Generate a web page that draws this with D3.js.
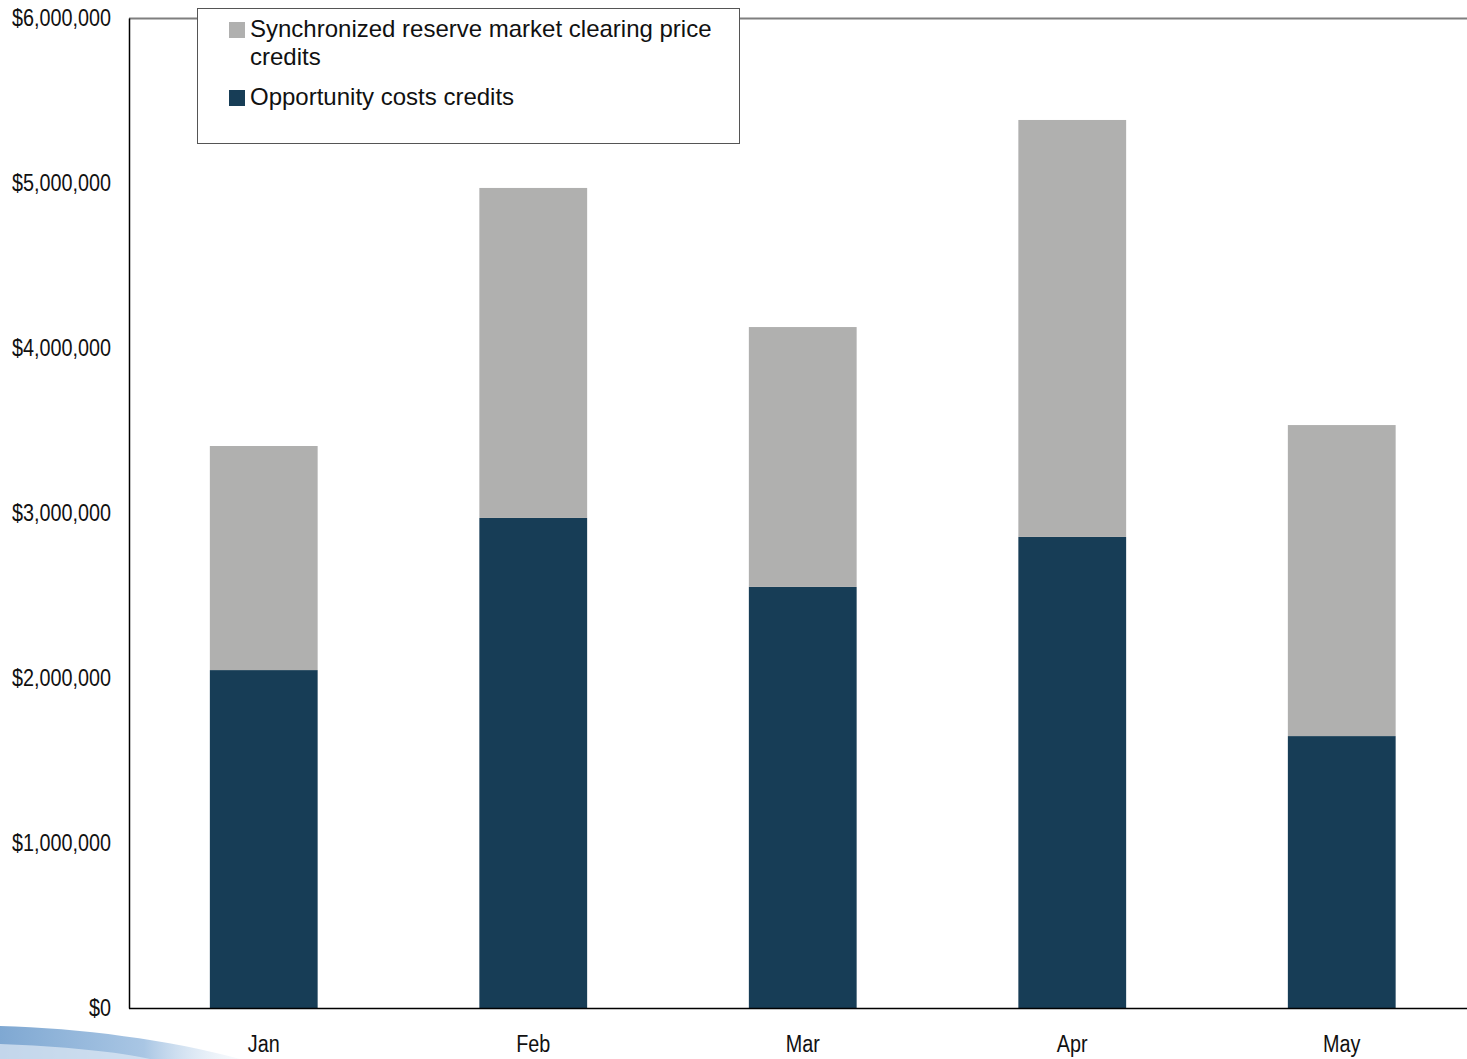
<!DOCTYPE html>
<html><head><meta charset="utf-8">
<script src="https://cdn.jsdelivr.net/npm/d3@7"></script>
<style>
html,body{margin:0;padding:0;background:#fff;overflow:hidden;}
svg{display:block;}
</style></head>
<body>
<svg id="chart" width="1467" height="1059"></svg>
<script>
const months = ["Jan","Feb","Mar","Apr","May"];
const opportunityCosts = [2048000, 2970000, 2552000, 2855000, 1648000];
const clearingPrice = [1358000, 2000000, 1575000, 2527000, 1885000];
const yTicks = [0, 1000000, 2000000, 3000000, 4000000, 5000000, 6000000];
const seriesNames = ["Synchronized reserve market clearing price credits", "Opportunity costs credits"];
const colors = {clearing:"#b0b0af", opp:"#173d56"};

const svg = d3.select("#chart");
const W = 1467, H = 1059;
const m = {left:129, top:18, bottom:1008};
const sx = 0.86;

// decorative swoosh bottom-left
const defs = svg.append("defs");
const g1 = defs.append("linearGradient").attr("id","sw").attr("x1","0").attr("x2","1").attr("y1","0").attr("y2","0");
g1.append("stop").attr("offset","0").attr("stop-color","#7fa8d2");
g1.append("stop").attr("offset","0.6").attr("stop-color","#a9c6e4");
g1.append("stop").attr("offset","1").attr("stop-color","#e8f0f8").attr("stop-opacity","0.3");
svg.append("path").attr("d","M0,1026 C80,1028 170,1040 240,1059 L0,1059 Z").attr("fill","url(#sw)");
svg.append("path").attr("d","M0,1044 C60,1046 120,1052 150,1059 L0,1059 Z").attr("fill","#dfeaf5").attr("opacity",0.7);

const x = d3.scaleBand().domain(months).range([m.left, 1476.5]).paddingInner(0.6).paddingOuter(0.3);
const y = d3.scaleLinear().domain([0, 6000000]).range([m.bottom, m.top]);

// top frame line (gray)
svg.append("line").attr("x1",m.left).attr("x2",W).attr("y1",m.top+0.5).attr("y2",m.top+0.5).attr("stroke","#7f7f7f").attr("stroke-width",2);

const data = months.map((mo,i)=>({mo, opp:opportunityCosts[i], clr:clearingPrice[i]}));

svg.append("g").selectAll("rect").data(data).join("rect")
  .attr("x", d=>x(d.mo)).attr("width", x.bandwidth())
  .attr("y", d=>y(d.opp)).attr("height", d=>y(0)-y(d.opp)).attr("fill", colors.opp);
svg.append("g").selectAll("rect").data(data).join("rect")
  .attr("x", d=>x(d.mo)).attr("width", x.bandwidth())
  .attr("y", d=>y(d.opp+d.clr)).attr("height", d=>y(d.opp)-y(d.opp+d.clr)).attr("fill", colors.clearing);

// y axis
const yAxis = d3.axisLeft(y).tickValues(yTicks).tickSize(0).tickPadding(18)
  .tickFormat(d=>"$"+d3.format(",")(d));
const ya = svg.append("g").attr("transform",`translate(${m.left},0)`).call(yAxis);
ya.select(".domain").attr("stroke","#000").attr("stroke-width",1.5);
ya.selectAll("text").attr("font-family","'Liberation Sans',Arial,sans-serif").attr("font-size",23).attr("fill","#111")
  .attr("x",-18/sx).attr("transform",`scale(${sx},1)`);

// x axis
const xAxis = d3.axisBottom(x).tickSize(0).tickPadding(28);
const xa = svg.append("g").attr("transform",`translate(0,${m.bottom})`).call(xAxis);
xa.select(".domain").attr("stroke","#000").attr("stroke-width",1.5).attr("d",`M${m.left},0.5H${W}`);
xa.selectAll("text").attr("font-family","'Liberation Sans',Arial,sans-serif").attr("font-size",23).attr("fill","#111")
  .attr("transform",`scale(${sx},1)`);

// legend
const lg = svg.append("g");
const lf = "'Liberation Sans',Arial,sans-serif";
lg.append("rect").attr("x",197.5).attr("y",8.5).attr("width",542).attr("height",135).attr("fill","#fff").attr("stroke","#555").attr("stroke-width",1);
lg.append("rect").attr("x",229).attr("y",22).attr("width",16).attr("height",16).attr("fill",colors.clearing);
lg.append("rect").attr("x",229).attr("y",90).attr("width",16).attr("height",16).attr("fill",colors.opp);
const lt = lg.append("text").attr("font-family",lf).attr("font-size",24).attr("fill","#111");
lt.append("tspan").attr("x",250).attr("y",37).text("Synchronized reserve market clearing price");
lt.append("tspan").attr("x",250).attr("y",65).text("credits");
lg.append("text").attr("x",250).attr("y",105).attr("font-family",lf).attr("font-size",24).attr("fill","#111").text(seriesNames[1]);
</script>
</body></html>
